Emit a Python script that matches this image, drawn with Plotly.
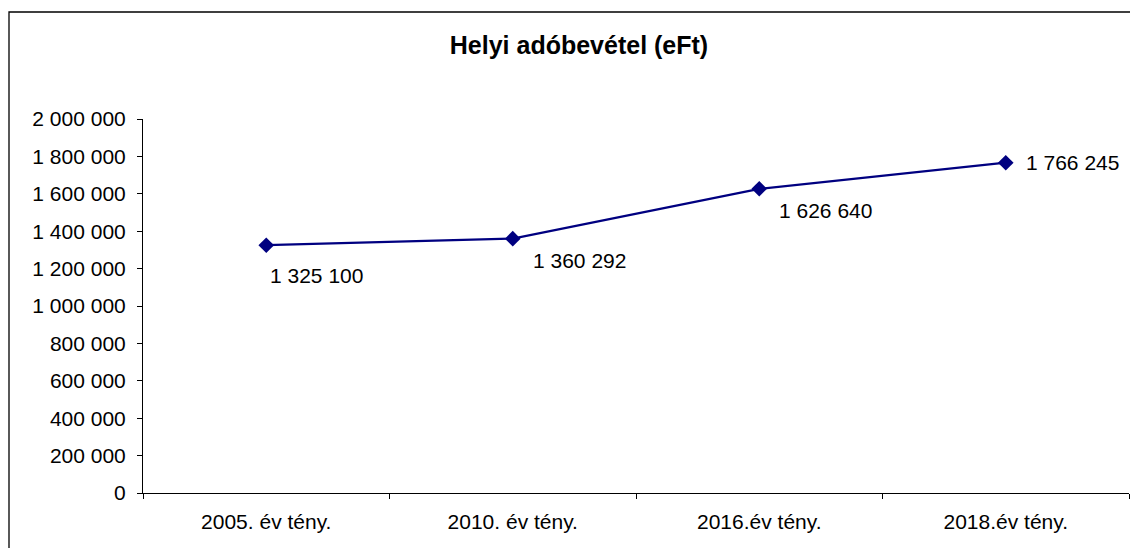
import plotly.graph_objects as go

categories = ["2005. év tény.", "2010. év tény.", "2016.év tény.", "2018.év tény."]
values = [1325100, 1360292, 1626640, 1766245]
label_texts = ["1 325 100", "1 360 292", "1 626 640", "1 766 245"]
y_ticks = list(range(0, 2000001, 200000))

# label placement (pixels), styling only
label_xshift = [2, 18, 18, 18]
label_yshift = [-30, -22, -22, 0]

# the page body adds an 8px offset, so the figure is sized to fit the window
OFF = 8
W, H = 1138 - 2 * OFF, 556 - 2 * OFF
ML, MR, MT, MB = 143 - OFF, 1, 119 - OFF, 55
pw = W - ML - MR
ph = H - MT - MB

fig = go.Figure()
fig.add_trace(go.Scatter(
    x=categories, y=values, mode="lines+markers",
    line=dict(color="#000080", width=2.2),
    marker=dict(symbol="diamond", size=12, color="#000080"),
    hoverinfo="x+y", showlegend=False,
))

font = "Liberation Sans, Arial, sans-serif"
for c, v, t, xs, ys in zip(categories, values, label_texts, label_xshift, label_yshift):
    fig.add_annotation(x=c, y=v, text=t, showarrow=False, xanchor="left", yanchor="middle",
                       xshift=xs, yshift=ys, font=dict(family=font, size=21, color="black"))

# chart border (top and left edges visible; right/bottom run past the window)
fig.add_shape(type="rect", xref="paper", yref="paper",
              x0=(1 - ML) / pw, x1=(W + 40 - ML) / pw,
              y0=-(H + 40 - MT - ph) / ph, y1=(MT + ph - (12 - OFF)) / ph,
              line=dict(color="black", width=1.3), fillcolor="rgba(0,0,0,0)", layer="below")

fig.update_layout(
    width=W, height=H, autosize=False,
    margin=dict(l=ML, r=MR, t=MT, b=MB),
    paper_bgcolor="white", plot_bgcolor="white",
    separators=", ",
    font=dict(family=font, size=21, color="black"),
    title=dict(text="<b>Helyi adóbevétel (eFt)</b>", font=dict(family=font, size=25, color="black"),
               x=(579 - OFF) / W, xref="container", xanchor="center",
               y=1 - (45 - OFF) / H, yref="container", yanchor="middle"),
    xaxis=dict(type="category", range=[-0.5, 3.5], showgrid=False, showline=True,
               linecolor="black", linewidth=1, ticks="outside", ticklen=5, tickcolor="black",
               tickson="boundaries", ticklabelstandoff=10, fixedrange=True),
    yaxis=dict(range=[0, 2000000], tickvals=y_ticks, tickformat=",d", showgrid=False,
               showline=True, linecolor="black", linewidth=1, ticks="outside", ticklen=5,
               tickcolor="black", zeroline=False, ticklabelstandoff=7, fixedrange=True),
)

fig.write_html("out.html")
